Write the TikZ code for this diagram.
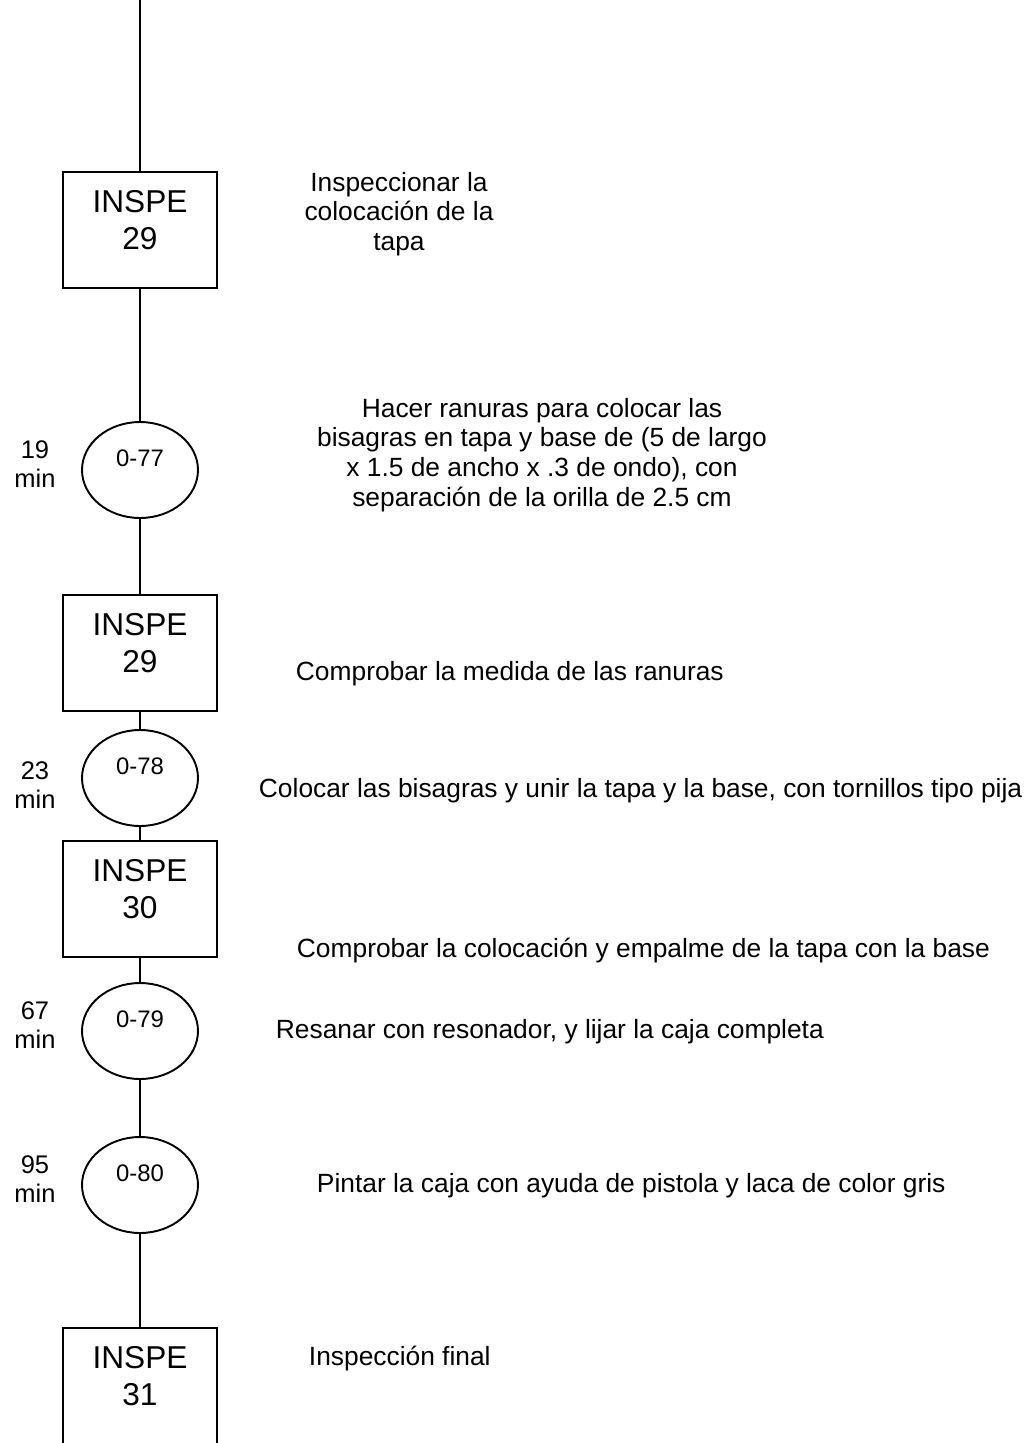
\documentclass[tikz,border=0pt]{standalone}
\usepackage{fontspec}
\setmainfont{Liberation Sans}
\usetikzlibrary{shapes.geometric, positioning}

\newcommand{\bajo}{\rule[-11.3pt]{0pt}{0pt}}

\begin{document}
\begin{tikzpicture}[x=0.02cm, y=-0.02cm, line width=1.1pt,
    inspe/.style={draw, rectangle, minimum width=3.08cm, minimum height=2.32cm, inner sep=0pt, align=center, font=\fontsize{18}{21}\selectfont},
    opera/.style={draw, ellipse, minimum width=2.32cm, minimum height=1.92cm, inner sep=0pt, text depth=14pt, font=\fontsize{13.6}{16}\selectfont},
    tiempo/.style={align=center, inner sep=0pt, font=\fontsize{14.5}{16.5}\selectfont},
    desc/.style={align=center, inner sep=0pt, font=\fontsize{15}{17}\selectfont}]
    \useasboundingbox (0,0) rectangle (1032,1443);

    % Inspection boxes
    \foreach \n/\y/\k in {a/230/29, b/653/29, c/899/30, d/1386/31} {
        \node[inspe] (insp\n) at (140,\y) {INSPE\\\k\bajo};
    }

    % Operations with their times
    \foreach \n/\y/\t/\m in {77/470/19/464, 78/778/23/785, 79/1031/67/1025, 80/1185/95/1179} {
        \node[opera] (op\n) at (140,\y) {0-\n};
        \node[tiempo] (min\n) at (35,\m) {\t\\min};
    }

    % Flow line
    \coordinate (arriba) at (140,0);
    \foreach \a/\b in {arriba/inspa, inspa/op77, op77/inspb, inspb/op78, op78/inspc, inspc/op79, op79/op80, op80/inspd} {
        \draw (\a) -- (\b);
    }

    % Descriptions
    \node[desc, anchor=north] (dtapa) at (399,171) {Inspeccionar la\\colocación de la\\tapa};
    \node[desc, anchor=north] (dranuras) at (542,397) {Hacer ranuras para colocar las\\bisagras en tapa y base de (5 de largo\\x 1.5 de ancho x .3 de ondo), con\\separación de la orilla de 2.5 cm};
    \node[desc, anchor=base west] (dmedida) at (295,680) {Comprobar la medida de las ranuras};
    \node[desc, anchor=base west] (dbisagras) at (258,797) {Colocar las bisagras y unir la tapa y la base, con tornillos tipo pija};
    \node[desc, anchor=base west] (dempalme) at (296,957) {Comprobar la colocación y empalme de la tapa con la base};
    \node[desc, anchor=base west] (dresanar) at (275,1038) {Resanar con resonador, y lijar la caja completa};
    \node[desc, anchor=base west] (dpintar) at (316,1192) {Pintar la caja con ayuda de pistola y laca de color gris};
    \node[desc, anchor=base west] (dfinal) at (308,1365) {Inspección final};
\end{tikzpicture}
\end{document}
